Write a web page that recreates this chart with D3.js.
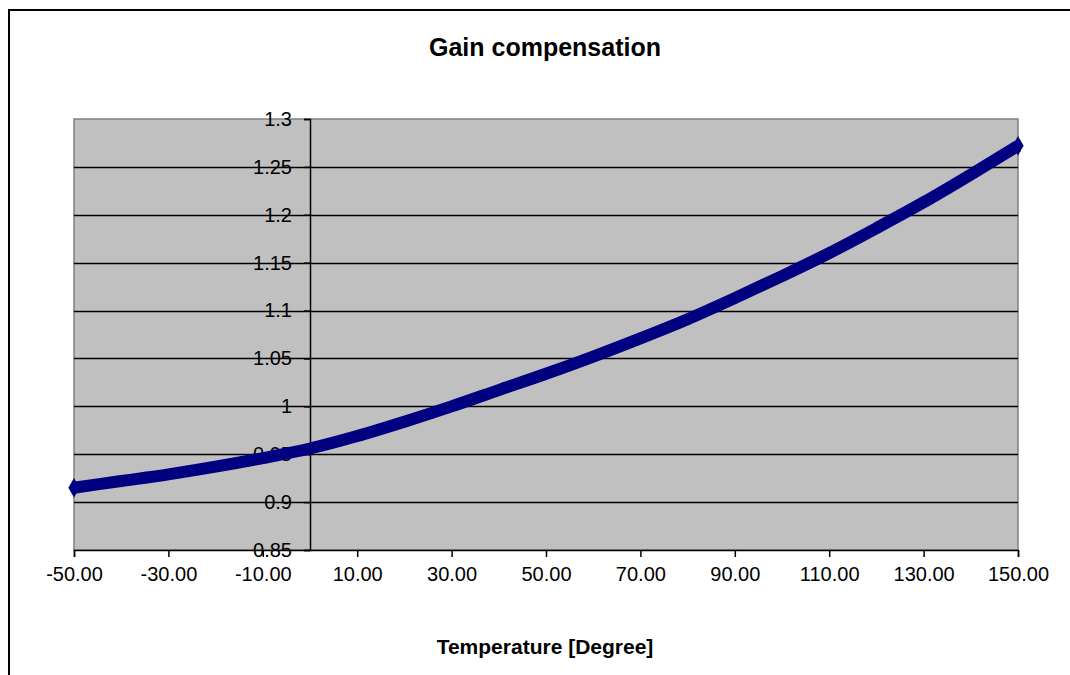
<html>
<head>
<meta charset="utf-8">
<style>
  body { margin: 0; background: #fff; font-family: "Liberation Sans", Arial, sans-serif; overflow: hidden; }
  svg { display: block; }
</style>
<script src="https://cdn.jsdelivr.net/npm/d3@7"></script>
</head>
<body>
<svg id="chart"></svg>
<script>
// values, every 10 degrees
let temps = [-50, -40, -30, -20, -10, 0, 10, 20, 30, 40, 50, 60, 70, 80, 90, 100, 110, 120, 130, 140, 150]
let gains = [0.915, 0.922, 0.929, 0.937, 0.946, 0.956, 0.969, 0.984, 1.000, 1.017, 1.034, 1.052,
             1.071, 1.091, 1.113, 1.136, 1.160, 1.186, 1.213, 1.242, 1.272]
let xTickValues = [-50, -30, -10, 10, 30, 50, 70, 90, 110, 130, 150]
let yTickValues = [0.85, 0.9, 0.95, 1, 1.05, 1.1, 1.15, 1.2, 1.25, 1.3]
let chartTitle = "Gain compensation"
let xTitle = "Temperature [Degree]"

let width = 1070, height = 675
let plot = {left: 74, right: 1018, top: 119, bottom: 550}

let svg = d3.select("#chart").attr("width", width).attr("height", height)

// outer chart frame, only left and top edges are in the picture
svg.append("path")
  .attr("d", "M9," + height + "V10H" + width)
  .attr("fill", "none").attr("stroke", "#000").attr("stroke-width", 2)

let x = d3.scaleLinear().domain([-50, 150]).range([plot.left, plot.right])
let y = d3.scaleLinear().domain([0.85, 1.3]).range([plot.bottom, plot.top])

// plot area
svg.append("rect")
  .attr("x", plot.left).attr("y", plot.top)
  .attr("width", plot.right - plot.left).attr("height", plot.bottom - plot.top)
  .attr("fill", "#c0c0c0").attr("stroke", "#808080").attr("stroke-width", 1.5)

// horizontal gridlines
svg.append("g").selectAll("line")
  .data(yTickValues.filter(v => v > 0.85 && v < 1.3))
  .enter().append("line")
  .attr("x1", plot.left).attr("x2", plot.right)
  .attr("y1", d => Math.round(y(d)) + 0.5).attr("y2", d => Math.round(y(d)) + 0.5)
  .attr("stroke", "#000").attr("stroke-width", 1.5)

// x axis at the bottom
let xAxis = svg.append("g")
  .attr("transform", "translate(0," + plot.bottom + ")")
  .call(d3.axisBottom(x).tickValues(xTickValues).tickSize(7).tickPadding(10)
    .tickFormat(d => d.toFixed(2)))
xAxis.select(".domain").attr("stroke", "#000").attr("stroke-width", 1.5)
xAxis.selectAll(".tick line").attr("stroke", "#000").attr("stroke-width", 1.5)
xAxis.selectAll("text")
  .attr("font-family", "Liberation Sans, Arial, sans-serif")
  .attr("font-size", 20).attr("fill", "#000")

// y axis crosses at x = 0
let yAxis = svg.append("g")
  .attr("transform", "translate(" + x(0) + ",0)")
  .call(d3.axisLeft(y).tickValues(yTickValues).tickSize(6).tickPadding(12)
    .tickFormat(d => String(+d.toFixed(2))))
yAxis.select(".domain").attr("stroke", "#000").attr("stroke-width", 1.5)
yAxis.selectAll(".tick line").attr("stroke", "#000").attr("stroke-width", 1.5)
yAxis.selectAll("text")
  .attr("font-family", "Liberation Sans, Arial, sans-serif")
  .attr("font-size", 20).attr("fill", "#000")

// the curve
let line = d3.line()
  .x((d, i) => x(temps[i]))
  .y(d => y(d))
  .curve(d3.curveMonotoneX)

svg.append("path")
  .datum(gains)
  .attr("d", line)
  .attr("fill", "none")
  .attr("stroke", "#000080")
  .attr("stroke-width", 12)

// diamond markers at the two ends
let ends = [0, gains.length - 1]
svg.append("g").selectAll("path")
  .data(ends)
  .enter().append("path")
  .attr("transform", i => "translate(" + x(temps[i]) + "," + y(gains[i]) + ")")
  .attr("d", d3.symbol().type(d3.symbolDiamond).size(110))
  .attr("fill", "#000080")

// titles
svg.append("text")
  .attr("x", 545).attr("y", 56)
  .attr("text-anchor", "middle")
  .attr("font-size", 25).attr("font-weight", "bold")
  .text(chartTitle)

svg.append("text")
  .attr("x", 545).attr("y", 654)
  .attr("text-anchor", "middle")
  .attr("font-size", 21).attr("font-weight", "bold")
  .text(xTitle)
</script>
</body>
</html>
